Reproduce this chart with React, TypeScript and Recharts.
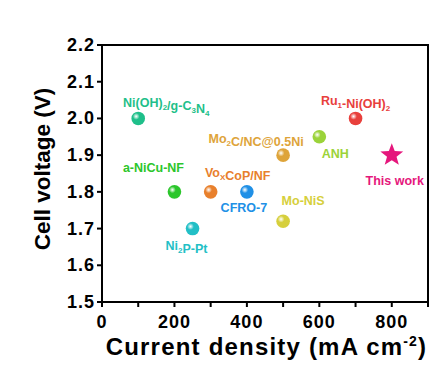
import React from 'react';
import { ScatterChart, Scatter, XAxis, YAxis } from 'recharts';

const names = [
  'Ni(OH)_2/g-C_3N_4',
  'a-NiCu-NF',
  'Vo_XCoP/NF',
  'Ni_2P-Pt',
  'CFRO-7',
  'Mo_2C/NC@0.5Ni',
  'Mo-NiS',
  'ANH',
  'Ru_1-Ni(OH)_2',
  'This work',
];
const currentDensity = [100, 200, 300, 250, 400, 500, 500, 600, 700, 800];
const cellVoltage = [2.0, 1.8, 1.8, 1.7, 1.8, 1.9, 1.72, 1.95, 2.0, 1.9];
const colors = ['#1fbf8a', '#2bc62b', '#e8802c', '#22bfc6', '#2090e6', '#dea43a', '#d6cf3c', '#9bd33a', '#e8403c', '#e5177c'];
const xTicks = [0, 100, 200, 300, 400, 500, 600, 700, 800, 900];
const yTicks = [1.5, 1.6, 1.7, 1.8, 1.9, 2.0, 2.1, 2.2];
const xMin = 0;
const xMax = 900;
const yMin = 1.5;
const yMax = 2.2;

// label placement (style), relative to point centre
const labelOffsets: [number, number][] = [
  [28, -11], [-21, -20], [27, -15], [-6, 21], [-3, 20], [-27, -12], [20, -16], [16, 21], [0, -13], [3, 30],
];

const data = names.map((n, i) => ({ name: n, x: currentDensity[i], y: cellVoltage[i], i }));
// plot frame drawn through the scales: corners of the axis domains
const frameData = [
  { x: xMin, y: yMin },
  { x: xMin, y: yMax },
  { x: xMax, y: yMax },
  { x: xMax, y: yMin },
  { x: xMin, y: yMin },
];
const xTickMarks = xTicks.map((v) => ({ x: v, y: yMin }));
const yTickMarks = yTicks.map((v) => ({ x: xMin, y: v }));

const FONT = '"Liberation Sans", Arial, sans-serif';

function richText(s: string, small: number) {
  const parts: React.ReactNode[] = [];
  let buf = '';
  let k = 0;
  for (let c = 0; c < s.length; c++) {
    const ch = s[c];
    if (ch === '_') {
      if (buf) { parts.push(<tspan key={k++}>{buf}</tspan>); buf = ''; }
      parts.push(<tspan key={k++} dy={3} fontSize={small}>{s[c + 1]}</tspan>);
      parts.push(<tspan key={k++} dy={-3}>{''}</tspan>);
      c++;
    } else {
      buf += ch;
    }
  }
  if (buf) parts.push(<tspan key={k++}>{buf}</tspan>);
  return parts;
}

function starPath(cx: number, cy: number, R: number, r: number) {
  let d = '';
  for (let j = 0; j < 10; j++) {
    const rad = j % 2 === 0 ? R : r;
    const a = -Math.PI / 2 + (j * Math.PI) / 5;
    d += (j === 0 ? 'M' : 'L') + (cx + rad * Math.cos(a)).toFixed(2) + ',' + (cy + rad * Math.sin(a)).toFixed(2);
  }
  return d + 'Z';
}

const PointShape = (props: any) => {
  const { cx, cy, payload } = props;
  const i = payload.i;
  const col = colors[i];
  const [dx, dy] = labelOffsets[i];
  const isStar = payload.name === 'This work';
  return (
    <g>
      {isStar ? (
        <path d={starPath(cx, cy, 12, 5)} fill={col} />
      ) : (
        <circle cx={cx} cy={cy} r={6.8} fill={`url(#grad${i})`} />
      )}
      <text x={cx + dx} y={cy + dy} textAnchor="middle" fill={col} fontSize={12.5} fontWeight="bold" fontFamily={FONT}>
        {richText(payload.name, 8)}
      </text>
    </g>
  );
};

const EmptyShape = () => <g />;

const XTickMark = (props: any) => {
  const { cx, cy } = props;
  return <path d={`M${cx},${cy}V${cy + 5}`} stroke="#000" strokeWidth={2} fill="none" />;
};

const YTickMark = (props: any) => {
  const { cx, cy } = props;
  return <path d={`M${cx - 5},${cy}H${cx}`} stroke="#000" strokeWidth={2} fill="none" />;
};

// Recharts places tick origin 8px (tickSize + tickMargin) away from the axis line
const XTick = (props: any) => {
  const { x, y, payload } = props;
  const v = payload.value;
  const major = v % 200 === 0 && v <= 800;
  if (!major) return <g />;
  return (
    <text x={x} y={y - 8 + 26} textAnchor="middle" fontSize={18} letterSpacing={1} fontWeight="bold" fontFamily={FONT} fill="#000">
      {v}
    </text>
  );
};

const YTick = (props: any) => {
  const { x, y, payload } = props;
  return (
    <text x={x + 8 - 7} y={y + 6} textAnchor="end" fontSize={18} letterSpacing={1} fontWeight="bold" fontFamily={FONT} fill="#000">
      {Number(payload.value).toFixed(1)}
    </text>
  );
};

export default function App() {
  return (
    <ScatterChart width={446} height={372} margin={{ top: 37, right: 26, bottom: 0, left: 0 }} style={{ background: '#fff' }}>
      <defs>
        {colors.map((c, i) => (
          <radialGradient key={i} id={`grad${i}`} cx="35%" cy="35%" r="70%">
            <stop offset="0%" stopColor="#ffffff" stopOpacity={0.9} />
            <stop offset="35%" stopColor={c} />
            <stop offset="100%" stopColor={c} />
          </radialGradient>
        ))}
      </defs>
      <XAxis
        type="number"
        dataKey="x"
        domain={[xMin, xMax]}
        ticks={xTicks}
        interval={0}
        height={78}
        axisLine={{ stroke: '#000', strokeWidth: 2 }}
        tickLine={false}
        tick={<XTick />}
      />
      <YAxis
        type="number"
        dataKey="y"
        domain={[yMin, yMax]}
        ticks={yTicks}
        interval={0}
        width={94}
        axisLine={{ stroke: '#000', strokeWidth: 2 }}
        tickLine={false}
        tick={<YTick />}
      />
      <Scatter data={data} shape={<PointShape />} isAnimationActive={false} />
      <Scatter data={xTickMarks} shape={<XTickMark />} isAnimationActive={false} />
      <Scatter data={yTickMarks} shape={<YTickMark />} isAnimationActive={false} />
      <Scatter
        data={frameData}
        shape={<EmptyShape />}
        line={{ stroke: '#000', strokeWidth: 2 }}
        lineType="joint"
        isAnimationActive={false}
      />
      <text x={258.5} y={347} textAnchor="middle" fontSize={24} letterSpacing={1.2} fontWeight="bold" fontFamily={FONT} fill="#000">
        Current density (mA cm<tspan dy={-9} fontSize={14}>-2</tspan><tspan dy={9}>)</tspan>
      </text>
      <text x={42} y={161} transform="rotate(-90 42 161)" textAnchor="middle" fontSize={22.5} fontWeight="bold" fontFamily={FONT} fill="#000">
        Cell voltage (V)
      </text>
    </ScatterChart>
  );
}
